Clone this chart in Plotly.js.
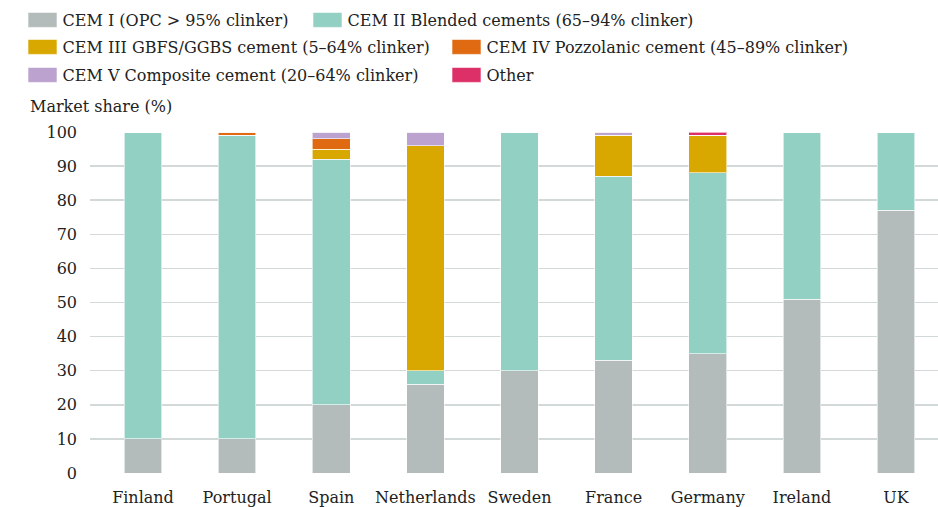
<!DOCTYPE html>
<html><head><meta charset="utf-8">
<script src="https://cdn.plot.ly/plotly-3.0.1.min.js"></script>
<style>html,body{margin:0;padding:0;background:#fff}#c{width:938px;height:507px}</style>
</head><body><div id="c"></div>
<script>
const countries = ["Finland","Portugal","Spain","Netherlands","Sweden","France","Germany","Ireland","UK"];
const cem1 = [10,10,20,26,30,33,35,51,77];
const cem2 = [90,89,72,4,70,54,53,49,23];
const cem3 = [0,0,3,66,0,12,11,0,0];
const cem4 = [0,1,3,0,0,0,0,0,0];
const cem5 = [0,0,2,4,0,1,0,0,0];
const other = [0,0,0,0,0,0,1,0,0];
const names = ["CEM I (OPC > 95% clinker)","CEM II Blended cements (65–94% clinker)","CEM III GBFS/GGBS cement (5–64% clinker)","CEM IV Pozzolanic cement (45–89% clinker)","CEM V Composite cement (20–64% clinker)","Other"];
const series = [cem1,cem2,cem3,cem4,cem5,other];
const colors = ["#b3bbbb","#93d0c4","#d9a800","#e06a12","#bba2cf","#de3068"];
const legendIds = ["legend","legend2","legend3","legend4","legend5","legend6"];
// legend entry anchor positions (px from top-left of page)
const legendPos = [[22.5,20],[307.5,20],[22.5,47],[446.5,47],[22.5,75],[446.5,75]];
const F = "DejaVu Serif";
const traces = series.map((v,i)=>({
  type:"bar", x:countries, y:v, name:names[i], legend:legendIds[i],
  marker:{color:colors[i], line:{color:"rgba(255,255,255,0.6)", width:1}},
  hoverinfo:"skip"
}));
const leg = (p)=>({orientation:"h", x:p[0]/938, xanchor:"left", xref:"container", y:1-p[1]/507, yanchor:"middle", yref:"container",
  font:{family:F, size:16, color:"#222"}, bgcolor:"rgba(0,0,0,0)", itemclick:false});
const layout = {
  width:938, height:507, barmode:"stack", bargap:0.6,
  margin:{l:90, r:0, t:132, b:34},
  paper_bgcolor:"#fff", plot_bgcolor:"#fff",
  font:{family:F, size:16, color:"#222"},
  showlegend:true,
  xaxis:{range:[-0.563,8.446], tickfont:{family:F,size:16,color:"#222"}, showgrid:false, zeroline:false, showline:false, ticks:"", ticklabelstandoff:13},
  yaxis:{range:[0,100], dtick:10, tickfont:{family:F,size:16,color:"#222"}, gridcolor:"#d3d8d8", gridwidth:1.5,
    zeroline:false, showline:false, ticklabelstandoff:12},
  annotations:[{text:"Market share (%)", xref:"paper", yref:"paper", x:(28-90)/848, y:1.075, xanchor:"left", yanchor:"middle",
    showarrow:false, font:{family:F,size:16,color:"#222"}}]
};
legendIds.forEach((id,i)=>{ layout[id] = leg(legendPos[i]); });
Plotly.newPlot("c", traces, layout, {displayModeBar:false, staticPlot:true}).then(gd=>{
  gd.querySelectorAll(".legendpoints path").forEach(p=>{
    p.setAttribute("d","M-14.5,-7.5h29v15h-29z");
  });
});
</script></body></html>
